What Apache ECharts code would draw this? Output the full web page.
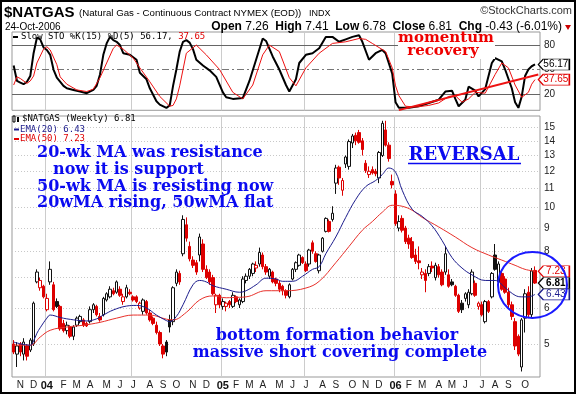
<!DOCTYPE html>
<html><head><meta charset="utf-8">
<script src="https://cdn.jsdelivr.net/npm/echarts@6/dist/echarts.min.js"></script>
<style>html,body{margin:0;padding:0;background:#fff}#c{width:576px;height:394px}</style>
</head><body><div id="c"></div>
<script>
// ---------- DATA ----------
const firstWeek = '2003-10-24';   // weekly bars (Friday dates)
const weekCount = 159;            // 158 bars + 1 empty slot on the right
const monthLetters = ['J','F','M','A','M','J','J','A','S','O','N','D'];

const opens = [5.00,4.75,5.00,4.75,4.95,4.85,5.00,6.85,6.65,6.70,5.95,6.85,6.75,6.20,6.05,5.55,5.35,5.45,5.20,5.50,
5.60,5.65,5.55,5.60,5.95,6.05,5.75,5.80,6.25,6.35,6.55,6.50,6.60,6.20,6.35,6.50,6.35,6.35,6.00,5.90,
6.20,5.85,5.70,5.50,5.30,4.95,5.05,5.65,5.60,6.80,7.15,7.90,9.15,8.20,7.65,7.55,7.85,8.30,7.30,7.20,
7.00,6.10,6.40,6.05,6.05,6.20,6.05,6.35,6.10,6.20,6.90,7.05,7.15,7.35,7.50,7.85,7.40,7.05,7.20,6.95,
6.80,6.70,6.55,6.35,6.95,7.30,7.45,7.75,7.50,7.50,8.35,7.90,7.25,8.00,8.85,9.30,9.40,11.30,12.25,10.90,
12.45,12.30,13.85,14.40,14.60,14.00,12.50,11.80,12.10,12.00,11.60,13.00,14.80,13.70,11.40,10.70,9.00,9.45,9.00,8.55,
8.40,7.85,7.62,7.10,7.15,7.15,7.42,7.00,7.40,7.20,7.20,7.10,6.85,6.70,6.40,6.15,6.30,6.10,6.45,6.80,
6.05,6.10,5.60,6.20,6.35,7.85,6.85,7.15,6.95,6.50,6.10,5.60,5.20,4.45,5.70,6.50,5.80,7.26];
const highs = [5.10,5.05,5.05,5.15,5.00,5.15,6.20,7.30,7.00,6.75,6.45,7.60,6.85,6.30,6.10,5.65,5.60,5.50,5.50,5.75,
5.80,5.70,5.60,6.05,6.15,6.10,5.85,6.35,6.50,6.70,6.65,6.90,6.70,6.45,6.75,6.60,6.40,6.40,6.20,6.30,
6.25,5.95,5.75,5.60,5.35,5.00,5.10,5.80,6.70,7.30,7.25,9.60,9.50,8.40,7.80,7.65,8.75,8.50,7.45,7.30,
7.10,6.45,6.45,6.30,6.20,6.25,6.50,6.40,6.30,7.05,7.15,7.35,7.55,7.60,8.15,7.95,7.50,7.35,7.25,7.00,
6.90,6.75,6.60,6.80,7.35,7.60,7.90,7.80,7.60,8.10,8.45,8.00,7.90,8.60,9.50,9.40,10.05,12.40,12.35,11.60,
13.00,14.10,14.50,14.60,14.80,14.20,12.70,12.30,12.30,12.15,13.30,15.50,15.50,13.90,11.80,10.90,9.60,9.60,9.10,8.70,
8.60,8.10,8.20,7.35,7.30,7.50,7.60,7.55,7.50,7.30,8.20,7.30,6.95,6.75,6.45,6.25,6.50,6.60,7.30,6.90,
6.20,6.20,6.25,6.25,7.20,8.30,7.60,7.30,7.05,6.65,6.20,5.70,5.25,5.70,6.60,6.70,7.35,7.41];
const lows = [4.75,4.45,4.70,4.60,4.60,4.80,4.95,6.80,6.55,6.30,5.90,6.75,5.90,6.00,5.35,5.30,5.25,5.15,5.10,5.45,
5.55,5.45,5.45,5.55,5.85,5.75,5.60,5.75,6.20,6.30,6.40,6.45,6.35,6.10,6.30,6.40,6.20,6.15,5.95,5.80,
5.80,5.60,5.50,5.25,4.95,4.65,4.70,5.30,5.50,6.70,6.75,7.80,8.40,7.60,7.35,7.10,7.60,7.20,6.95,6.75,
6.40,5.85,6.00,5.95,5.90,6.00,6.00,6.15,6.00,6.15,6.80,6.95,7.05,7.20,7.40,7.30,7.10,6.95,6.80,6.70,
6.50,6.40,6.30,6.30,6.90,7.20,7.40,7.50,7.20,7.40,7.90,7.55,7.15,7.95,8.80,8.80,9.30,10.70,11.20,10.60,
12.20,12.10,13.50,13.70,13.80,13.00,11.90,11.60,11.80,11.70,11.30,12.90,13.60,12.60,11.00,9.10,8.85,8.80,8.30,8.10,
7.70,7.50,7.30,6.95,6.50,7.05,7.20,6.90,7.00,6.70,7.10,6.65,6.70,6.35,5.85,5.85,6.20,6.00,6.40,6.35,
5.95,5.75,5.55,5.85,6.30,7.25,6.70,6.55,6.45,6.00,5.65,4.85,4.70,4.35,5.30,5.70,5.70,6.78];
const closes = [4.80,4.95,4.80,5.05,4.70,5.10,6.15,7.20,6.90,6.35,6.30,7.30,5.95,6.05,5.40,5.35,5.50,5.20,5.45,5.70,
5.75,5.50,5.48,5.95,6.10,5.80,5.65,6.30,6.45,6.60,6.45,6.85,6.40,6.35,6.65,6.45,6.25,6.20,6.15,6.25,
5.85,5.65,5.55,5.30,5.00,4.75,4.80,5.45,6.65,7.20,6.85,9.40,8.55,7.70,7.45,7.20,8.60,7.30,7.00,6.85,
6.45,6.40,6.10,6.20,6.15,6.10,6.40,6.20,6.25,6.95,7.05,7.30,7.50,7.45,7.95,7.40,7.20,7.30,6.85,6.80,
6.60,6.55,6.40,6.75,7.30,7.55,7.85,7.55,7.25,8.05,8.00,7.60,7.85,8.55,9.45,8.85,9.70,12.20,11.60,11.45,
12.90,13.95,14.35,14.00,13.90,13.40,12.05,12.00,11.90,11.85,13.20,15.30,13.70,12.80,11.20,9.20,9.30,8.90,8.40,8.30,
7.75,7.60,7.55,7.20,6.90,7.40,7.35,7.45,7.10,6.75,7.90,6.70,6.75,6.40,5.90,5.95,6.45,6.50,7.20,6.40,
6.15,5.80,6.20,5.90,7.15,7.30,7.50,6.60,6.50,6.10,5.75,4.95,4.75,5.65,6.45,5.80,7.24,6.81];

const ema20 = [[0,5.05],[5,4.97],[6,5.08],[7,5.28],[8,5.43],[10,5.70],[11,5.79],[14,5.72],[16,5.68],[20,5.63],[22,5.62],[25,5.68],[27,5.79],[30,5.94],[34,6.06],[37,6.08],[40,6.00],[43,5.79],[46,5.63],[47,5.60],[49,5.75],[51,6.10],[54,6.75],[56,6.90],[58,6.85],[60,6.72],[64,6.60],[68,6.50],[70,6.55],[73,6.75],[76,6.98],[79,6.95],[81,6.87],[84,6.87],[87,7.05],[90,7.30],[92,7.40],[94,7.90],[97,8.60],[100,9.50],[103,10.40],[106,11.10],[109,11.45],[111,11.80],[113,12.20],[115,11.95],[117,10.90],[120,9.90],[123,9.55],[126,9.10],[129,8.45],[132,7.75],[135,7.35],[138,7.10],[142,6.90],[145,6.90],[148,6.65],[151,6.40],[153,6.35],[155,6.35],[157,6.43]];
const ema50 = [[0,4.97],[5,4.97],[8,5.18],[11,5.36],[16,5.45],[21,5.50],[26,5.58],[31,5.70],[36,5.79],[41,5.79],[46,5.67],[48,5.65],[52,5.87],[56,6.25],[60,6.38],[64,6.32],[66,6.33],[70,6.35],[76,6.55],[82,6.55],[88,6.64],[92,6.87],[97,7.55],[101,8.20],[105,8.90],[108,9.30],[111,9.75],[114,10.10],[117,10.05],[120,9.85],[123,9.50],[128,9.05],[133,8.60],[138,8.15],[143,7.85],[147,7.65],[151,7.45],[154,7.30],[157,7.23]];

const stochK = [[0,55],[1,36],[2,34],[3,32],[4,35],[5,42],[6,70],[7,89],[8,87],[9,77],[10,74],[11,68],[12,50],[13,40],[15,30],[16,27],[18,25],[20,23],[22,21],[24,25],[25,30],[26,44],[27,68],[28,82],[29,90],[30,86],[31,84],[32,80],[33,70],[35,68],[37,62],[38,46],[40,38],[41,27],[43,11],[44,7],[46,3],[47,6],[48,30],[49,50],[50,72],[51,84],[52,86],[53,83],[54,75],[55,62],[57,55],[59,49],[61,41],[63,22],[64,16],[66,14],[69,15],[71,36],[73,62],[75,88],[76,85],[78,66],[80,50],[82,31],[83,23],[85,38],[86,58],[88,68],[90,70],[92,76],[94,90],[96,90],[98,84],[100,87],[102,90],[104,92],[105,84],[107,62],[109,70],[111,74],[112,70],[114,45],[115,10],[116,3],[119,3],[122,5],[125,9],[128,13],[130,23],[132,24],[133,14],[134,5],[136,13],[137,29],[139,24],[140,17],[142,26],[144,58],[145,64],[147,60],[148,50],[150,27],[151,10],[152,3],[153,17],[154,42],[155,50],[156,54],[157,56.17]];
const stochD = [[0,31],[1,41],[2,39],[4,33],[5,36],[6,42],[7,58],[9,75],[10,78],[11,74],[13,56],[14,41],[16,32],[19,25],[22,23],[24,26],[26,40],[28,58],[30,76],[31,80],[33,75],[36,64],[38,52],[41,35],[44,17],[47,5],[48,6],[49,14],[50,30],[52,70],[55,80],[58,68],[62,50],[66,22],[69,14],[72,31],[75,68],[77,80],[80,72],[83,40],[85,30],[88,52],[92,70],[96,82],[100,84],[104,88],[106,87],[108,82],[112,72],[114,52],[115,30],[116,18],[118,5],[121,4],[125,6],[128,9],[131,17],[133,18],[135,10],[137,14],[139,22],[142,21],[145,44],[147,58],[149,52],[151,31],[153,16],[155,22],[156,32],[157,37.65]];

const priceTicks = [5,6,7,8,9,10,11,12,13,14,15];
const hiddenPriceLabels = [7];
const stochLevels = [20,50,80];
const lastK = 56.17, lastD = 37.65, lastEma20 = 6.43, lastEma50 = 7.23;
const trendFrom = [116, 0.2], trendTo = [158, 44];

// ---------- BUILD ----------
const weeks = [];
const t0 = Date.parse(firstWeek + 'T00:00:00Z');
for (let i = 0; i < weekCount; i++) weeks.push(new Date(t0 + i * 7 * 86400000).toISOString().slice(0, 10));
const monthOf = i => +weeks[i].slice(5, 7) - 1;
const isMonthStart = i => i > 0 && i < opens.length && monthOf(i) !== monthOf(i - 1);
const isHalfYear = i => isMonthStart(i) && (monthOf(i) === 0 || monthOf(i) === 6);

const candleData = opens.map((o, i) => {
  const c = closes[i], pc = i > 0 ? closes[i - 1] : o;
  const col = c >= pc ? '#111' : '#dd0000';
  const fill = c >= o ? '#fff' : col;
  return { value: [o, c, lows[i], highs[i]],
    itemStyle: { color: fill, color0: fill, borderColor: col, borderColor0: col } };
});
const lastClose = closes[closes.length - 1];

const TAG = 'path://M0,5L5,0L31,0L31,10L5,10Z';
function tag(v, col, bold) {
  return { coord: [weekCount - 1, v], value: v, symbol: TAG, symbolSize: [31, 11], symbolOffset: [15.5, 0],
    itemStyle: { color: '#fff', borderColor: col, borderWidth: 1 },
    label: { show: true, position: 'inside', formatter: v.toFixed(2), color: bold ? '#000' : col,
      fontWeight: bold ? 'bold' : 'normal', fontSize: 10, fontFamily: 'Liberation Sans', offset: [2, 0] } };
}

const serif = '"DejaVu Serif"';
const BLUE = '#0a0af0';
function txt(x, y, text, font, fill, align) {
  return { type: 'text', silent: true, z: 50,
    style: { x, y, text, font, fill, align: align || 'left', verticalAlign: 'middle' } };
}

const chart = echarts.init(document.getElementById('c'), null, { renderer: 'canvas' });
chart.setOption({
  animation: false,
  backgroundColor: '#fff',
  grid: [
    { left: 12, right: 36, top: 32, height: 78.3, show: true, borderColor: '#999', borderWidth: 1 },
    { left: 12, right: 36, top: 116, height: 261, show: true, borderColor: '#999', borderWidth: 1 }
  ],
  xAxis: [
    { type: 'category', gridIndex: 0, data: weeks, axisLine: { show: false }, axisTick: { show: false },
      axisLabel: { show: false }, splitLine: { show: true, interval: isHalfYear, lineStyle: { color: '#ccc' } } },
    { type: 'category', gridIndex: 1, data: weeks, axisLine: { show: false }, axisTick: { show: false },
      splitLine: { show: true, interval: isHalfYear, lineStyle: { color: '#ccc' } },
      axisLabel: { interval: isMonthStart, margin: 3, fontSize: 10, color: '#222', fontFamily: 'Liberation Sans',
        formatter: (v) => { const m = +v.slice(5, 7) - 1; return m === 0 ? '{y|' + v.slice(2, 4) + '}' : monthLetters[m]; },
        rich: { y: { fontWeight: 'bold', fontSize: 11, fontFamily: 'Liberation Sans', color: '#111' } } } }
  ],
  yAxis: [
    { type: 'value', gridIndex: 0, min: 0, max: 96, position: 'right', axisLine: { show: false },
      axisTick: { show: false }, axisLabel: { show: false }, splitLine: { show: false } },
    { type: 'log', logBase: 10, gridIndex: 1, min: 4.23, max: 15.88, position: 'right', axisLine: { show: false },
      axisTick: { show: false }, axisLabel: { show: false }, splitLine: { show: false } }
  ],
  series: [
    { type: 'candlestick', xAxisIndex: 1, yAxisIndex: 1, data: candleData, barWidth: 3, z: 2,
      itemStyle: { borderWidth: 1 } },
    { type: 'line', name: 'EMA(50)', xAxisIndex: 1, yAxisIndex: 1, data: ema50, smooth: 0.4, showSymbol: false, z: 3,
      lineStyle: { color: '#e8302a', width: 1 },
      markLine: { silent: true, z: 1, symbol: 'none', animation: false,
        lineStyle: { color: '#c8c8c8', type: [1, 2], width: 1 },
        label: { position: 'end', distance: 4, fontSize: 10, color: '#222', fontFamily: 'Liberation Sans', formatter: p => p.value },
        data: priceTicks.map(v => ({ yAxis: v, label: { show: !hiddenPriceLabels.includes(v) } })) },
      markPoint: { z: 20, data: [tag(lastEma50, '#e00000', false)] } },
    { type: 'line', name: 'EMA(20)', xAxisIndex: 1, yAxisIndex: 1, data: ema20, smooth: 0.4, showSymbol: false, z: 3,
      lineStyle: { color: '#1c1c8c', width: 1 },
      markPoint: { z: 20, data: [tag(lastEma20, '#1c1c8c', false), tag(lastClose, '#000', true)] } },
    { type: 'line', name: '%K', xAxisIndex: 0, yAxisIndex: 0, data: stochK, showSymbol: false, z: 3,
      lineStyle: { color: '#000', width: 2 },
      markLine: { silent: true, z: 1, symbol: 'none', animation: false,
        label: { position: 'end', distance: 4, fontSize: 10, color: '#222', fontFamily: 'Liberation Sans', formatter: p => p.value },
        data: stochLevels.map(v => ({ yAxis: v, lineStyle: v === 50 ? { color: '#777', type: [7, 3, 2, 3], width: 1 } : { color: '#666', type: 'solid', width: 1 } })) },
      markPoint: { z: 20, data: [tag(lastK, '#000', false)] } },
    { type: 'line', name: '%D', xAxisIndex: 0, yAxisIndex: 0, data: stochD, showSymbol: false, z: 4,
      lineStyle: { color: '#ee1111', width: 1 },
      markLine: { silent: true, symbol: 'none', animation: false, lineStyle: { color: '#ee1111', width: 2, type: 'solid' }, label: { show: false },
        data: [[{ coord: trendFrom }, { coord: trendTo }]] },
      markPoint: { z: 20, data: [tag(lastD, '#e00000', false)] } }
  ],
  graphic: [
    // header
    txt(4, 12.5, '$NATGAS', 'bold 15px "Liberation Sans"', '#000'),
    txt(79, 13.5, '(Natural Gas - Continuous Contract NYMEX (EOD))', '9.7px "Liberation Sans"', '#000'),
    txt(309, 13.5, 'INDX', '9px "Liberation Sans"', '#000'),
    txt(572, 11, '\u00a9StockCharts.com', '11px "Liberation Sans"', '#333', 'right'),
    txt(5, 27, '24-Oct-2006', '10px "Liberation Sans"', '#000'),
    { type: 'text', silent: true, z: 50, style: { x: 562, y: 27, align: 'right', verticalAlign: 'middle',
        text: '{b|Open} 7.26  {b|High} 7.41  {b|Low} 6.78  {b|Close} ' + lastClose.toFixed(2) + '  {b|Chg} -0.43 (-6.01%)',
        font: '12px "Liberation Sans"', fill: '#000', rich: { b: { fontWeight: 'bold', fontSize: 12, fontFamily: 'Liberation Sans' } } } },
    { type: 'polygon', silent: true, z: 50, shape: { points: [[565, 25], [571, 25], [568, 30]] }, style: { fill: '#cc0000' } },
    // stoch legend
    { type: 'line', silent: true, z: 50, shape: { x1: 13, y1: 37, x2: 18, y2: 37 }, style: { stroke: '#000', lineWidth: 2 } },
    { type: 'text', silent: true, z: 50, style: { x: 21, y: 37, verticalAlign: 'middle',
        text: 'Slow STO %K(15) %D(5) ' + lastK.toFixed(2) + ', {r|' + lastD.toFixed(2) + '}',
        font: '9px "DejaVu Sans Mono"', fill: '#000', rich: { r: { fill: '#e00000', color: '#e00000', fontSize: 9, fontFamily: 'DejaVu Sans Mono' } } } },
    // price legend
    { type: 'rect', silent: true, z: 50, shape: { x: 13, y: 116, width: 2, height: 6 }, style: { fill: '#fff', stroke: '#000', lineWidth: 1 } },
    { type: 'rect', silent: true, z: 50, shape: { x: 17, y: 117, width: 2, height: 5 }, style: { fill: '#000' } },
    txt(22, 119, '$NATGAS (Weekly) ' + lastClose.toFixed(2), '9px "DejaVu Sans Mono"', '#000'),
    { type: 'line', silent: true, z: 50, shape: { x1: 14, y1: 129.5, x2: 19, y2: 129.5 }, style: { stroke: '#1c1c8c', lineWidth: 2 } },
    txt(20, 129.5, 'EMA(20) ' + lastEma20.toFixed(2), '9px "DejaVu Sans Mono"', '#1c1c8c'),
    { type: 'line', silent: true, z: 50, shape: { x1: 14, y1: 139, x2: 19, y2: 139 }, style: { stroke: '#e00000', lineWidth: 2 } },
    txt(20, 139, 'EMA(50) ' + lastEma50.toFixed(2), '9px "DejaVu Sans Mono"', '#e00000'),
    // annotations
    { type: 'rect', silent: true, z: 45, shape: { x: 398, y: 33, width: 97, height: 26 }, style: { fill: '#fff' } },
    txt(446, 38.5, 'momentum', 'bold 15px ' + serif, '#ee0000', 'center'),
    txt(443, 51.5, 'recovery', 'bold 15px ' + serif, '#ee0000', 'center'),
    txt(464, 155.5, 'REVERSAL', 'bold 18px ' + serif, BLUE, 'center'),
    { type: 'line', silent: true, z: 50, shape: { x1: 408, y1: 163.5, x2: 521, y2: 163.5 }, style: { stroke: BLUE, lineWidth: 1.5 } },
    txt(37, 153.3, '20-wk MA was resistance', 'bold 16px ' + serif, BLUE),
    txt(53, 170, 'now it is support', 'bold 16px ' + serif, BLUE),
    txt(37, 186.7, '50-wk MA is resisting now', 'bold 16px ' + serif, BLUE),
    txt(37, 203.3, '20wMA rising, 50wMA flat', 'bold 16px ' + serif, BLUE),
    txt(337, 336, 'bottom formation behavior', 'bold 16px ' + serif, BLUE, 'center'),
    txt(340, 352.5, 'massive short covering complete', 'bold 16px ' + serif, BLUE, 'center'),
    { type: 'ellipse', silent: true, z: 60, shape: { cx: 532.5, cy: 285, rx: 34.5, ry: 33 }, style: { fill: 'none', stroke: '#1a1aff', lineWidth: 2 } },
    // outer frame
    { type: 'rect', silent: true, z: 100, shape: { x: 1, y: 1, width: 574, height: 392 }, style: { fill: 'none', stroke: '#000', lineWidth: 2 } }
  ]
});
</script></body></html>
